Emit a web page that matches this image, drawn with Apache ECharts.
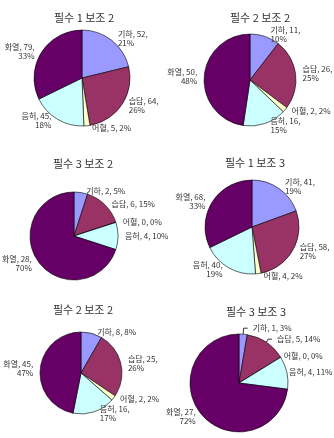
<!DOCTYPE html>
<html>
<head>
<meta charset="utf-8">
<script src="https://cdn.jsdelivr.net/npm/echarts@6/dist/echarts.min.js"></script>
<style>
  html, body { margin: 0; padding: 0; background: #fff; }
  #main { width: 334px; height: 438px; }
</style>
</head>
<body>
<div id="main"></div>
<script>
// categories shared by all six pies
const categories = ['기하', '습담', '어혈', '음허', '화열'];
const colors = ['#9999ff', '#993366', '#ffffcc', '#ccffff', '#660066'];

const titles = ['필수 1 보조 2', '필수 2 보조 2', '필수 3 보조 2', '필수 1 보조 3', '필수 2 보조 2', '필수 3 보조 3'];

// counts and the percentages printed on the labels
const values1 = [52, 64, 5, 45, 79];
const pcts1 = [21, 26, 2, 18, 33];
const values2 = [11, 26, 2, 16, 50];
const pcts2 = [10, 25, 2, 15, 48];
const values3 = [2, 6, 0, 4, 28];
const pcts3 = [5, 15, 0, 10, 70];
const values4 = [41, 58, 4, 40, 68];
const pcts4 = [19, 27, 2, 19, 33];
const values5 = [8, 25, 2, 16, 45];
const pcts5 = [8, 26, 2, 17, 47];
const values6 = [1, 5, 0, 4, 27];
const pcts6 = [3, 14, 0, 11, 72];

// which labels wrap onto a second line
const wrap1 = [1, 1, 0, 1, 1];
const wrap2 = [1, 1, 0, 1, 1];
const wrap3 = [0, 0, 0, 0, 1];
const wrap4 = [1, 1, 0, 1, 1];
const wrap5 = [0, 1, 0, 1, 1];
const wrap6 = [0, 0, 0, 0, 1];

const allValues = [values1, values2, values3, values4, values5, values6];
const allPcts = [pcts1, pcts2, pcts3, pcts4, pcts5, pcts6];
const allWraps = [wrap1, wrap2, wrap3, wrap4, wrap5, wrap6];

// layout of each panel
const centers = [[82, 78], [250, 80], [74, 236], [252, 227], [81, 373], [239, 383]];
const radii = [48, 46, 44, 47, 41, 49];
const titlePos = [[79, 7], [255, 7], [78, 153], [250, 152], [78, 299], [251, 301]];

const chart = echarts.init(document.getElementById('main'));

const title = titles.map((t, i) => ({
    text: t,
    left: titlePos[i][0],
    top: titlePos[i][1],
    textAlign: 'center',
    textStyle: { fontSize: 11, fontWeight: 'normal', color: '#333', fontFamily: '"Noto Sans CJK KR", sans-serif' }
}));

const series = allValues.map((vals, i) => ({
    type: 'pie',
    center: centers[i],
    radius: radii[i],
    startAngle: 90,
    clockwise: true,
    avoidLabelOverlap: i === 5,
    animation: false,
    itemStyle: { borderColor: '#000', borderWidth: 0.6 },
    label: {
        position: 'outside',
        overflow: 'none',
        fontSize: 8,
        lineHeight: 9,
        color: '#333',
        align: 'center',
        fontFamily: '"Noto Sans CJK KR", sans-serif'
    },
    labelLine: { show: false, length: 2, length2: 0 },
    data: categories.map((c, k) => ({
        name: c,
        value: vals[k],
        itemStyle: { color: colors[k] },
        label: {
            formatter: c + ', ' + vals[k] + ',' + (allWraps[i][k] ? '\n' : ' ') + allPcts[i][k] + '%'
        },
        labelLine: (i === 5 && k < 2) ? { show: true, length: 6, length2: 4, lineStyle: { color: '#000', width: 0.8 } } : undefined
    }))
}));

chart.setOption({ backgroundColor: '#fff', title: title, series: series });
</script>
</body>
</html>
